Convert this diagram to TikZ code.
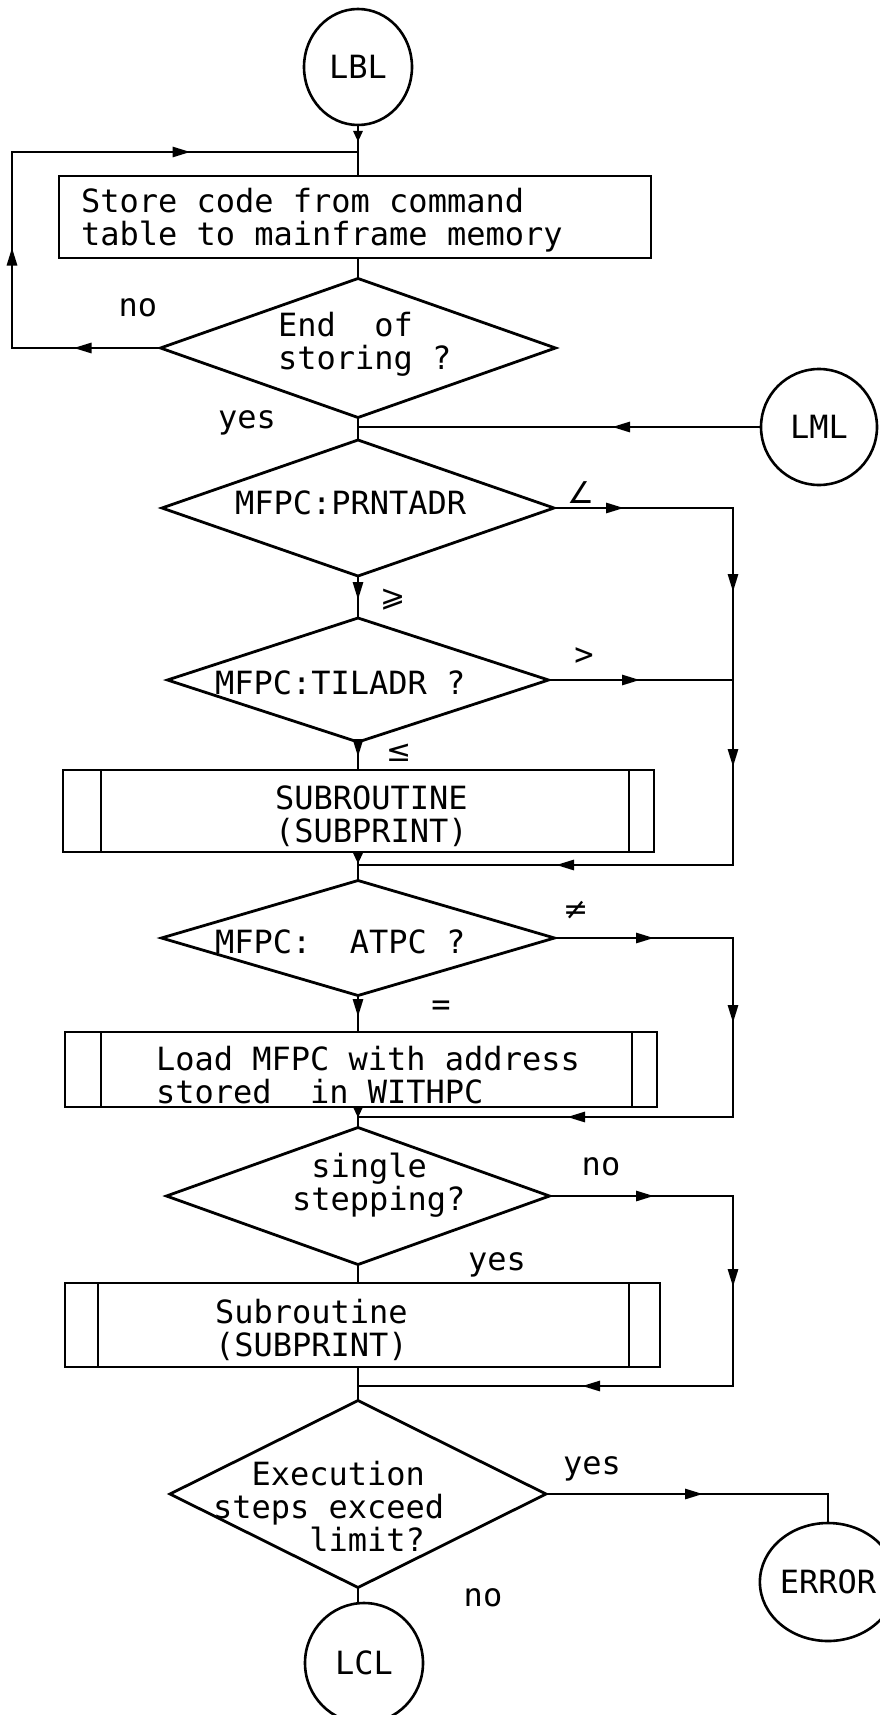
\documentclass[tikz,border=0pt]{standalone}
\usepackage{fontspec}
\newfontfamily\plot{DejaVu Sans Mono}
\newfontfamily\symf{DejaVu Sans}
\usetikzlibrary{shapes.geometric,arrows.meta,decorations.markings}
\tikzset{
  term/.style={draw, ellipse, line width=2.6pt, font=\plot\fontsize{32}{33}\selectfont},
  proc/.style={draw, rectangle},
  dia/.style={draw, diamond},
  txt/.style={anchor=west, align=left, font=\plot\fontsize{32}{33}\selectfont},
  lbl/.style={font=\plot\fontsize{32}{33}\selectfont},
  sym/.style={font=\symf\fontsize{30}{33}\selectfont},
  ma/.style={postaction={decorate, decoration={markings, mark=at position #1 with {\arrow{Triangle[length=18pt,width=10pt]}}}}},
  sa/.style={postaction={decorate, decoration={markings, mark=at position #1 with {\arrow{Triangle[length=11pt,width=9pt]}}}}},
}
\begin{document}
\begin{tikzpicture}[x=1pt, y=-1pt, line width=2.8pt, every node/.style={inner sep=0pt, outer sep=0pt}]
\useasboundingbox (0,0) rectangle (879,1715);

% terminals
\node[term, minimum width=108pt, minimum height=116pt] (LBL) at (358,67) {LBL};
\node[term, minimum width=116pt, minimum height=116pt] (LML) at (819,427) {LML};
\node[term, minimum width=122pt, minimum height=118pt] (ERR) at (828,1582) {ERROR};
\node[term, minimum width=118pt, minimum height=120pt] (LCL) at (364,1663) {LCL};

% process boxes
\node[proc, minimum width=592pt, minimum height=82pt] (box1) at (355,217) {};
\node[txt] (box1t) at (81,220) {Store code from command\\table to mainframe memory};

\node[proc, minimum width=591pt, minimum height=82pt] (sub1) at (358.5,811) {};
\node[txt] (sub1t) at (275,816) {SUBROUTINE\\(SUBPRINT)};

\node[proc, minimum width=592pt, minimum height=75pt] (load) at (361,1069.5) {};
\node[txt] (loadt) at (156,1075) {Load MFPC with address\\stored~~in WITHPC};

\node[proc, minimum width=595pt, minimum height=84pt] (sub2) at (362.5,1325) {};
\node[txt] (sub2t) at (215,1330) {Subroutine\\(SUBPRINT)};

% inner lines of subroutine boxes
\draw ([xshift=38pt]sub1.north west) -- ([xshift=38pt]sub1.south west);
\draw ([xshift=-25pt]sub1.north east) -- ([xshift=-25pt]sub1.south east);
\draw ([xshift=36pt]load.north west) -- ([xshift=36pt]load.south west);
\draw ([xshift=-25pt]load.north east) -- ([xshift=-25pt]load.south east);
\draw ([xshift=33pt]sub2.north west) -- ([xshift=33pt]sub2.south west);
\draw ([xshift=-31pt]sub2.north east) -- ([xshift=-31pt]sub2.south east);

% decisions
\node[dia, minimum width=395pt, minimum height=139pt] (d1) at (358,348) {};
\node[txt] (d1t) at (278,344) {End~~of\\storing ?};
\node[dia, minimum width=392pt, minimum height=136pt] (d2) at (358,508) {};
\node[txt] (d2t) at (235,503) {MFPC:PRNTADR};
\node[dia, minimum width=381pt, minimum height=124pt] (d3) at (358,680) {};
\node[txt] (d3t) at (215,683) {MFPC:TILADR ?};
\node[dia, minimum width=393pt, minimum height=115pt] (d4) at (358,938) {};
\node[txt] (d4t) at (215,942) {MFPC:~~ATPC ?};
\node[dia, minimum width=383pt, minimum height=137pt] (d5) at (358,1196) {};
\node[txt] (d5t) at (292,1185) {\phantom{x}single\\stepping?};
\node[dia, minimum width=376pt, minimum height=187pt] (d6) at (358,1494) {};
\node[txt] (d6t) at (213,1506) {\phantom{xx}Execution\\steps exceed\\\phantom{xxxxx}limit?};

% junctions
\coordinate (j1) at (358,152);
\coordinate (j2) at (358,427);
\coordinate (j3) at (358,865);
\coordinate (j4) at (358,1117);
\coordinate (j5) at (358,1386);
\coordinate (loopc) at (12,152);
\coordinate (bus) at (733,0);

% main flow
\draw[sa=17pt] (LBL.south) -- (j1) -- (LBL.south |- box1.north);
\draw (box1.south -| j1) -- (d1.north);
\draw[ma=87pt, ma=249pt, ma=523pt] (d1.west) -| (loopc) -- (j1);
\draw (d1.south) -- (d2.north);
\draw[ma=149pt] (LML.west) -- (j2);
\draw[ma=24pt] (d2.south) -- (d3.north);
\draw[ma=70pt, ma=263pt, ma=438pt, ma=713pt] (d2.east) -- (d2.east -| bus) -- (j3 -| bus) -- (j3);
\draw[ma=91.5pt] (d3.east) -- (d3.east -| bus);
\draw[ma=15pt] (d3.south) -- (d3.south |- sub1.north);
\draw[sa=12pt] (sub1.south -| j3) -- (d4.north);
\draw[ma=99.5pt, ma=263.5pt, ma=523.5pt] (d4.east) -- (d4.east -| bus) -- (j4 -| bus) -- (j4);
\draw[ma=21.5pt] (d4.south) -- (d4.south |- load.north);
\draw[sa=11pt] (load.south -| j4) -- (d5.north);
\draw[ma=104.5pt, ma=274.5pt, ma=524.5pt] (d5.east) -- (d5.east -| bus) -- (j5 -| bus) -- (j5);
\draw (d5.south) -- (d5.south |- sub2.north);
\draw (sub2.south -| j5) -- (d6.north);
\draw[ma=157pt] (d6.east) -| (ERR.north);
\draw (d6.south) -- (d6.south |- LCL.north);

% labels
\node[lbl] (l1) at (138,308) {no};
\node[lbl] (l2) at (247,423) {yes};
\node[sym] (l3) at (581,493) {∠};
\node[sym] (l4) at (393,600) {⩾};
\node[lbl] (l5) at (584,657) {>};
\node[sym] (l6) at (399,753) {≤};
\node[sym] (l7) at (576,910) {≠};
\node[lbl] (l8) at (441,1008) {=};
\node[lbl] (l9) at (601,1167) {no};
\node[lbl] (l10) at (497,1265) {yes};
\node[lbl] (l11) at (592,1469) {yes};
\node[lbl] (l12) at (483,1598) {no};
\end{tikzpicture}
\end{document}
